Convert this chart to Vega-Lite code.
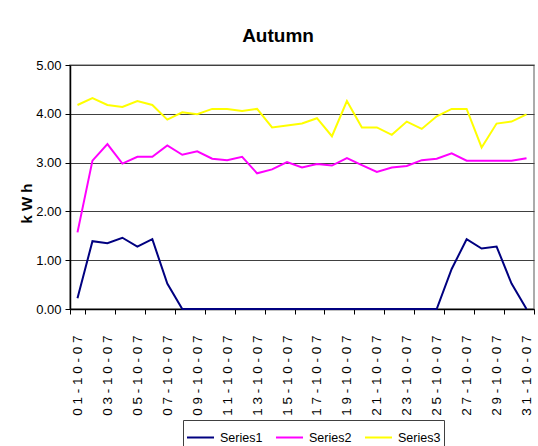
{
  "$schema": "https://vega.github.io/schema/vega-lite/v6.json",
  "width": 464,
  "height": 244,
  "autosize": "none",
  "padding": {"left": 70, "top": 65, "right": 4, "bottom": 137},
  "background": "white",
  "title": {
    "text": "Autumn",
    "font": "Liberation Sans",
    "fontSize": 19,
    "fontWeight": "bold",
    "color": "black",
    "anchor": "middle",
    "baseline": "alphabetic",
    "dx": -24,
    "dy": 24,
    "offset": 22
  },
  "data": {
    "values": [
      {"date": "01-10-07", "series": "Series1", "value": 0.22},
      {"date": "02-10-07", "series": "Series1", "value": 1.39},
      {"date": "03-10-07", "series": "Series1", "value": 1.35},
      {"date": "04-10-07", "series": "Series1", "value": 1.46},
      {"date": "05-10-07", "series": "Series1", "value": 1.28},
      {"date": "06-10-07", "series": "Series1", "value": 1.43},
      {"date": "07-10-07", "series": "Series1", "value": 0.52},
      {"date": "08-10-07", "series": "Series1", "value": 0},
      {"date": "09-10-07", "series": "Series1", "value": 0},
      {"date": "10-10-07", "series": "Series1", "value": 0},
      {"date": "11-10-07", "series": "Series1", "value": 0},
      {"date": "12-10-07", "series": "Series1", "value": 0},
      {"date": "13-10-07", "series": "Series1", "value": 0},
      {"date": "14-10-07", "series": "Series1", "value": 0},
      {"date": "15-10-07", "series": "Series1", "value": 0},
      {"date": "16-10-07", "series": "Series1", "value": 0},
      {"date": "17-10-07", "series": "Series1", "value": 0},
      {"date": "18-10-07", "series": "Series1", "value": 0},
      {"date": "19-10-07", "series": "Series1", "value": 0},
      {"date": "20-10-07", "series": "Series1", "value": 0},
      {"date": "21-10-07", "series": "Series1", "value": 0},
      {"date": "22-10-07", "series": "Series1", "value": 0},
      {"date": "23-10-07", "series": "Series1", "value": 0},
      {"date": "24-10-07", "series": "Series1", "value": 0},
      {"date": "25-10-07", "series": "Series1", "value": 0},
      {"date": "26-10-07", "series": "Series1", "value": 0.82},
      {"date": "27-10-07", "series": "Series1", "value": 1.43},
      {"date": "28-10-07", "series": "Series1", "value": 1.24},
      {"date": "29-10-07", "series": "Series1", "value": 1.28},
      {"date": "30-10-07", "series": "Series1", "value": 0.52},
      {"date": "31-10-07", "series": "Series1", "value": 0},
      {"date": "01-10-07", "series": "Series2", "value": 1.57},
      {"date": "02-10-07", "series": "Series2", "value": 3.04},
      {"date": "03-10-07", "series": "Series2", "value": 3.38},
      {"date": "04-10-07", "series": "Series2", "value": 2.98},
      {"date": "05-10-07", "series": "Series2", "value": 3.12},
      {"date": "06-10-07", "series": "Series2", "value": 3.12},
      {"date": "07-10-07", "series": "Series2", "value": 3.35},
      {"date": "08-10-07", "series": "Series2", "value": 3.16},
      {"date": "09-10-07", "series": "Series2", "value": 3.23},
      {"date": "10-10-07", "series": "Series2", "value": 3.08},
      {"date": "11-10-07", "series": "Series2", "value": 3.05},
      {"date": "12-10-07", "series": "Series2", "value": 3.12},
      {"date": "13-10-07", "series": "Series2", "value": 2.78},
      {"date": "14-10-07", "series": "Series2", "value": 2.86},
      {"date": "15-10-07", "series": "Series2", "value": 3.01},
      {"date": "16-10-07", "series": "Series2", "value": 2.90},
      {"date": "17-10-07", "series": "Series2", "value": 2.97},
      {"date": "18-10-07", "series": "Series2", "value": 2.94},
      {"date": "19-10-07", "series": "Series2", "value": 3.09},
      {"date": "20-10-07", "series": "Series2", "value": 2.95},
      {"date": "21-10-07", "series": "Series2", "value": 2.81},
      {"date": "22-10-07", "series": "Series2", "value": 2.90},
      {"date": "23-10-07", "series": "Series2", "value": 2.93},
      {"date": "24-10-07", "series": "Series2", "value": 3.05},
      {"date": "25-10-07", "series": "Series2", "value": 3.08},
      {"date": "26-10-07", "series": "Series2", "value": 3.19},
      {"date": "27-10-07", "series": "Series2", "value": 3.04},
      {"date": "28-10-07", "series": "Series2", "value": 3.04},
      {"date": "29-10-07", "series": "Series2", "value": 3.04},
      {"date": "30-10-07", "series": "Series2", "value": 3.04},
      {"date": "31-10-07", "series": "Series2", "value": 3.09},
      {"date": "01-10-07", "series": "Series3", "value": 4.18},
      {"date": "02-10-07", "series": "Series3", "value": 4.32},
      {"date": "03-10-07", "series": "Series3", "value": 4.18},
      {"date": "04-10-07", "series": "Series3", "value": 4.14},
      {"date": "05-10-07", "series": "Series3", "value": 4.26},
      {"date": "06-10-07", "series": "Series3", "value": 4.18},
      {"date": "07-10-07", "series": "Series3", "value": 3.88},
      {"date": "08-10-07", "series": "Series3", "value": 4.03},
      {"date": "09-10-07", "series": "Series3", "value": 3.99},
      {"date": "10-10-07", "series": "Series3", "value": 4.10},
      {"date": "11-10-07", "series": "Series3", "value": 4.10},
      {"date": "12-10-07", "series": "Series3", "value": 4.06},
      {"date": "13-10-07", "series": "Series3", "value": 4.10},
      {"date": "14-10-07", "series": "Series3", "value": 3.72},
      {"date": "15-10-07", "series": "Series3", "value": 3.76},
      {"date": "16-10-07", "series": "Series3", "value": 3.80},
      {"date": "17-10-07", "series": "Series3", "value": 3.91},
      {"date": "18-10-07", "series": "Series3", "value": 3.54},
      {"date": "19-10-07", "series": "Series3", "value": 4.26},
      {"date": "20-10-07", "series": "Series3", "value": 3.72},
      {"date": "21-10-07", "series": "Series3", "value": 3.72},
      {"date": "22-10-07", "series": "Series3", "value": 3.57},
      {"date": "23-10-07", "series": "Series3", "value": 3.84},
      {"date": "24-10-07", "series": "Series3", "value": 3.69},
      {"date": "25-10-07", "series": "Series3", "value": 3.95},
      {"date": "26-10-07", "series": "Series3", "value": 4.10},
      {"date": "27-10-07", "series": "Series3", "value": 4.10},
      {"date": "28-10-07", "series": "Series3", "value": 3.31},
      {"date": "29-10-07", "series": "Series3", "value": 3.80},
      {"date": "30-10-07", "series": "Series3", "value": 3.84},
      {"date": "31-10-07", "series": "Series3", "value": 3.99}
    ]
  },
  "mark": {"type": "line", "strokeWidth": 2},
  "encoding": {
    "x": {
      "field": "date",
      "type": "ordinal",
      "sort": null,
      "bandPosition": 0.5,
      "scale": {"type": "band", "paddingInner": 0, "paddingOuter": 0},
      "axis": {
        "title": null,
        "values": ["01-10-07","03-10-07","05-10-07","07-10-07","09-10-07","11-10-07","13-10-07","15-10-07","17-10-07","19-10-07","21-10-07","23-10-07","25-10-07","27-10-07","29-10-07","31-10-07"],
        "labelExpr": "join(split(datum.label, ''), ' ')",
        "labelAngle": -90,
        "labelAlign": "right",
        "labelBaseline": "middle",
        "labelFont": "Liberation Sans",
        "labelFontSize": 13.5,
        "labelColor": "black",
        "labelPadding": 21,
        "tickBand": "extent",
        "tickSize": 5,
        "tickColor": "black",
        "domainColor": "black",
        "domainWidth": 1.5,
        "grid": false
      }
    },
    "y": {
      "field": "value",
      "type": "quantitative",
      "scale": {"domain": [0, 5], "nice": false},
      "axis": {
        "title": "k W h",
        "titleFont": "Liberation Sans",
        "titleFontSize": 15,
        "titleFontWeight": "bold",
        "titleColor": "black",
        "titleX": -44,
        "titleY": 138,
        "titleAlign": "center",
        "titleBaseline": "middle",
        "titleAngle": -90,
        "values": [0, 1, 2, 3, 4, 5],
        "format": ".2f",
        "labelFont": "Liberation Sans",
        "labelFontSize": 13,
        "labelColor": "black",
        "labelPadding": 4,
        "tickSize": 5,
        "tickColor": "black",
        "domainColor": "black",
        "domainWidth": 1.5,
        "grid": true,
        "gridColor": "#404040",
        "gridWidth": 1
      }
    },
    "color": {
      "field": "series",
      "type": "nominal",
      "scale": {"domain": ["Series1", "Series2", "Series3"], "range": ["#000080", "#FF00FF", "#FFFF00"]},
      "legend": {
        "title": null,
        "orient": "none",
        "legendX": 113,
        "legendY": 355,
        "direction": "horizontal",
        "symbolType": "stroke",
        "symbolSize": 729,
        "symbolStrokeWidth": 2,
        "labelFont": "Liberation Sans",
        "labelFontSize": 12.5,
        "labelColor": "black",
        "labelOffset": 5,
        "columnPadding": 9,
        "padding": 3,
        "strokeColor": "#404040",
        "fillColor": "white"
      }
    }
  },
  "config": {
    "view": {"stroke": "#909090", "strokeWidth": 1.5}
  }
}
